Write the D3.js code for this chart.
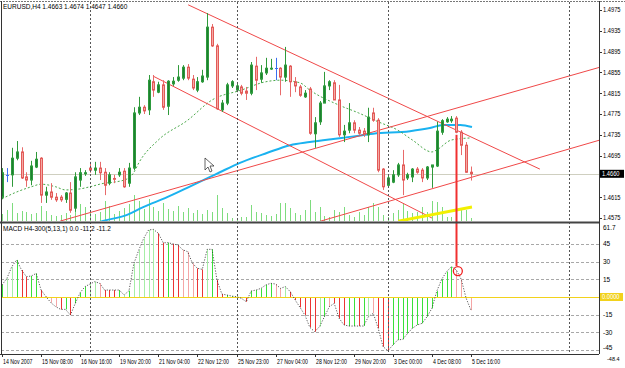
<!DOCTYPE html>
<html>
<head>
<meta charset="utf-8">
<script src="https://cdn.jsdelivr.net/npm/d3@7"></script>
<style>
  body { margin: 0; background: #fff; }
  svg text { font-family: "Liberation Sans", Arial, sans-serif; font-size: 6.5px; fill: #000; }
</style>
</head>
<body>
<svg id="chart" width="625" height="368"></svg>
<script>
// EURUSD H4, 14 Nov 2007 .. 5 Dec 2007 16:00
const timeLabels = ['14 Nov 2007','15 Nov 08:00','16 Nov 16:00','19 Nov 20:00','21 Nov 04:00','22 Nov 12:00',
  '25 Nov 23:00','27 Nov 04:00','28 Nov 12:00','29 Nov 20:00','3 Dec 00:00','4 Dec 08:00','5 Dec 16:00'];

const open = [1.4615,1.4658,1.4658,1.4690,1.4702,1.4654,1.4648,1.4673,1.4690,1.4619,1.4625,1.4615,1.4615,1.4611,1.4623,1.4594,
  1.4648,1.4660,1.4671,1.4667,1.4671,1.4663,1.4642,1.4651,1.4658,1.4665,1.4642,1.4671,1.4777,1.4788,1.4783,1.4837,
  1.4817,1.4831,1.4790,1.4833,1.4840,1.4844,1.4865,1.4842,1.4821,1.4837,1.4846,1.4942,1.4906,1.4783,1.4796,1.4829,
  1.4821,1.4827,1.4819,1.4815,1.4867,1.4842,1.4854,1.4862,1.4863,1.4863,1.4846,1.4867,1.4837,1.4827,1.4808,1.4823,
  1.4737,1.4760,1.4796,1.4829,1.4835,1.4802,1.4735,1.4744,1.4758,1.4744,1.4742,1.4735,1.4777,1.4763,1.4669,1.4638,
  1.4644,1.4658,1.4677,1.4652,1.4654,1.4669,1.4667,1.4652,1.4673,1.4675,1.4740,1.4760,1.4762,1.4767,1.4740,1.4715,1.4663];
const high = [1.4671,1.4671,1.4710,1.4723,1.4711,1.4663,1.4685,1.4702,1.4692,1.4635,1.4642,1.4623,1.4619,1.4625,1.4644,1.4663,
  1.4671,1.4667,1.4683,1.4683,1.4683,1.4671,1.4663,1.4658,1.4671,1.4671,1.4681,1.4788,1.4808,1.4792,1.4850,1.4850,
  1.4837,1.4840,1.4840,1.4846,1.4869,1.4869,1.4871,1.4850,1.4846,1.4860,1.4969,1.4948,1.4910,1.4802,1.4835,1.4840,
  1.4833,1.4831,1.4827,1.4875,1.4885,1.4869,1.4883,1.4881,1.4883,1.4865,1.4904,1.4869,1.4846,1.4831,1.4821,1.4827,
  1.4769,1.4800,1.4856,1.4840,1.4840,1.4831,1.4754,1.4796,1.4763,1.4750,1.4748,1.4787,1.4787,1.4767,1.4671,1.4656,
  1.4667,1.4681,1.4706,1.4662,1.4671,1.4673,1.4671,1.4675,1.4677,1.4760,1.4765,1.4769,1.4771,1.4771,1.4744,1.4721,1.4674];
const low = [1.4611,1.4644,1.4635,1.4686,1.4650,1.4635,1.4638,1.4671,1.4604,1.4604,1.4610,1.4606,1.4606,1.4604,1.4585,1.4587,
  1.4635,1.4656,1.4662,1.4658,1.4648,1.4619,1.4638,1.4642,1.4654,1.4633,1.4635,1.4667,1.4773,1.4775,1.4773,1.4808,
  1.4815,1.4783,1.4773,1.4829,1.4837,1.4840,1.4840,1.4821,1.4817,1.4835,1.4840,1.4904,1.4783,1.4779,1.4792,1.4825,
  1.4817,1.4811,1.4802,1.4811,1.4821,1.4835,1.4850,1.4860,1.4840,1.4811,1.4837,1.4808,1.4817,1.4808,1.4806,1.4735,
  1.4710,1.4754,1.4796,1.4821,1.4802,1.4731,1.4721,1.4738,1.4738,1.4735,1.4731,1.4721,1.4760,1.4663,1.4629,1.4637,
  1.4642,1.4654,1.4619,1.4648,1.4644,1.4660,1.4644,1.4648,1.4633,1.4673,1.4735,1.4758,1.4758,1.4738,1.4696,1.4662,1.4647];
const close = [1.4662,1.4658,1.4690,1.4702,1.4652,1.4648,1.4675,1.4688,1.4619,1.4625,1.4615,1.4610,1.4610,1.4623,1.4590,1.4654,
  1.4662,1.4662,1.4667,1.4671,1.4662,1.4638,1.4658,1.4650,1.4663,1.4635,1.4671,1.4777,1.4788,1.4781,1.4840,1.4821,
  1.4831,1.4788,1.4838,1.4838,1.4846,1.4865,1.4844,1.4825,1.4837,1.4848,1.4942,1.4906,1.4785,1.4796,1.4831,1.4837,
  1.4829,1.4815,1.4815,1.4869,1.4840,1.4854,1.4863,1.4863,1.4863,1.4846,1.4869,1.4837,1.4829,1.4811,1.4815,1.4738,
  1.4758,1.4796,1.4829,1.4837,1.4802,1.4735,1.4742,1.4758,1.4744,1.4738,1.4737,1.4769,1.4763,1.4667,1.4635,1.4652,
  1.4658,1.4677,1.4648,1.4658,1.4669,1.4663,1.4652,1.4673,1.4677,1.4742,1.4762,1.4765,1.4765,1.4740,1.4715,1.4663,1.4660];
const volume = [700,1100,1800,800,1000,900,700,800,1500,1000,600,500,600,800,600,1400,1700,1400,900,700,900,2000,1500,700,
  1000,1300,1700,2600,2000,1200,2200,1400,1000,1800,1200,1000,1500,900,1300,800,1100,700,1100,900,2600,1300,800,300,
  100,400,400,1600,900,800,600,500,700,1800,1800,1300,800,600,1100,2100,900,1400,500,400,1100,900,1400,600,400,900,
  600,1400,1800,1400,600,400,800,1100,1800,1000,800,900,1400,900,2000,1900,1400,400,400,700,1200,1100,300];

// MACD(5,13,1) histogram and its colour class: g rising, lg light rising, r falling, p light falling
const macd = [10.2,15.8,25.7,31.4,22.9,17.2,17.8,20,5.9,0.3,-4.8,-8.2,-10.5,-10.5,-15.3,-5.4,3.7,8.8,11,13,11.6,5.9,5.9,5.9,
  5.9,1.7,5.4,28.5,39.8,49.7,56.8,57.3,54,46,46,45,44,40,38.4,28.5,24.3,23.4,40.4,40.4,14.4,2.5,1.7,0.8,
  0.3,-1.1,-4,5.1,5.9,7.3,10.2,11.6,11,7.3,8.8,4.5,-2.5,-8.8,-15.3,-25.7,-29.4,-25.1,-16.7,-8.2,-5.4,-18,-23.7,-24.6,
  -24.6,-24.6,-24.6,-16.7,-13.8,-26.5,-42.1,-45.5,-40.7,-36.4,-35.9,-31,-26.5,-23.7,-22.3,-16.7,-9.6,5,15,21.5,25.7,22.9,15,-1,-11.2];
const macdColor = ['g','lg','lg','g','r','r','g','g','r','r','p','p','r','g','r','g','g','g','lg','lg','p','r','r','r',
  'g','lg','g','lg','lg','lg','lg','lg','r','r','g','r','r','p','p','p','r','r','lg','g','r','r','g','g',
  'g','p','r','g','g','g','g','g','p','p','lg','r','r','r','r','r','r','lg','g','p','r','r','r','g',
  'g','r','g','lg','p','r','r','r','g','g','g','g','g','g','g','g','g','g','g','g','g','p','p','r','p'];

// moving averages: [bar, price]
const maFast = [[0,1.4612],[3,1.4625],[6,1.4635],[8,1.4640],[11,1.4635],[13,1.4629],[16,1.4631],[18,1.4635],[21,1.4642],
  [23,1.4644],[26,1.4652],[27,1.4663],[28,1.4681],[32,1.4725],[38,1.4763],[43,1.4802],[49,1.4821],[54,1.4837],[57,1.4840],
  [61,1.4835],[63,1.4821],[69,1.4792],[73,1.4777],[77,1.4760],[81,1.4744],[84,1.4725],[88,1.4702],[89,1.4706],[92,1.4725],[96,1.4729]];
const maSlow = [[18,1.4562],[20.5,1.4569],[25.6,1.4581],[28.9,1.4596],[33.8,1.4615],[37.9,1.4633],[42.6,1.4654],[44.6,1.4663],
  [48.7,1.4681],[54.2,1.4700],[59,1.4715],[63,1.4721],[67.8,1.4727],[71.2,1.4731],[76,1.4737],[83.5,1.4742],[87.6,1.4748],
  [90.3,1.4754],[93.8,1.4754],[96.2,1.4750]];

// drawn objects: [bar, price] pairs
const channelLines = [[[38.1,1.4985],[110.1,1.4669]], [[30.9,1.4848],[88,1.4575]],
  [[11.9,1.4569],[122.4,1.4865]], [[64.5,1.4567],[122.4,1.4725]]];
const yellowLine = [[81.1,1.4569],[96.2,1.4596]];
const markBar = 93, markPrice = 1.4735, markMacd = 22;

const priceTicks = [1.4975,1.4935,1.4895,1.4855,1.4815,1.4775,1.4735,1.4695,1.4615,1.4575];
const macdTicks = [45,30,15,-15,-30,-45];
const macdMax = 61.7, macdMin = -48.4;
const separators = [18,48,79,116];

// squeeze axis texts a little, the terminal font is narrower
function narrow(sel, k) {
  sel.each(function() {
    const w = this.getComputedTextLength();
    d3.select(this).attr('textLength', w * k).attr('lengthAdjust', 'spacingAndGlyphs');
  });
}

class TerminalChart {
  constructor(_config) {
    this.config = {
      parentElement: _config.parentElement,
      axisX: 599,
      mainTop: 2, mainBottom: 221,
      subTop: 224, subBottom: 354
    };
    this.initVis();
  }

  initVis() {
    let vis = this;
    let c = vis.config;
    vis.svg = d3.select(c.parentElement);

    vis.bars = d3.range(open.length).map(i => ({i, o: open[i], h: high[i], l: low[i], c: close[i], v: volume[i]}));

    vis.xScale = d3.scaleLinear().domain([0, 96]).range([2, 471]);
    vis.yScale = d3.scaleLinear().domain([1.4575, 1.4975]).range([218, 10]);
    vis.vScale = d3.scaleLinear().domain([0, 3000]).range([c.mainBottom, c.mainBottom - 30]);
    vis.mScale = d3.scaleLinear().domain([-45, 45]).range([350.1, 243.9]);

    vis.svg.append('defs').append('clipPath').attr('id', 'clipMain')
      .append('rect').attr('x', 1).attr('y', c.mainTop).attr('width', c.axisX - 1).attr('height', c.mainBottom - c.mainTop);
    vis.svg.select('defs').append('clipPath').attr('id', 'clipSub')
      .append('rect').attr('x', 1).attr('y', c.subTop).attr('width', c.axisX - 1).attr('height', c.subBottom - c.subTop);

    vis.main = vis.svg.append('g').attr('clip-path', 'url(#clipMain)');
    vis.sub = vis.svg.append('g').attr('clip-path', 'url(#clipSub)');

    vis.updateVis();
  }

  updateVis() {
    let vis = this;
    let c = vis.config;
    const px = i => Math.round(vis.xScale(i));

    // volumes
    vis.main.selectAll('.vol').data(vis.bars).join('line')
      .attr('class', 'vol')
      .attr('x1', d => px(d.i) + 0.5).attr('x2', d => px(d.i) + 0.5)
      .attr('y1', c.mainBottom).attr('y2', d => vis.vScale(d.v))
      .attr('stroke', '#7edc7e').attr('stroke-width', 1);

    // current price line
    vis.main.append('line')
      .attr('x1', 1).attr('x2', c.axisX)
      .attr('y1', Math.round(vis.yScale(close[close.length - 1])) + 0.5)
      .attr('y2', Math.round(vis.yScale(close[close.length - 1])) + 0.5)
      .attr('stroke', '#cfcfc0').attr('stroke-width', 1);

    // period separators
    vis.svg.selectAll('.sep').data(separators).join('line')
      .attr('class', 'sep')
      .attr('x1', d => px(d) + 0.5).attr('x2', d => px(d) + 0.5)
      .attr('y1', c.mainTop).attr('y2', c.subBottom)
      .attr('stroke', '#555').attr('stroke-dasharray', '2,2').attr('stroke-width', 1);

    const line = d3.line().x(d => vis.xScale(d[0])).y(d => vis.yScale(d[1]));

    vis.main.append('path').datum(maSlow)
      .attr('d', line.curve(d3.curveMonotoneX))
      .attr('fill', 'none').attr('stroke', '#1ab2f0').attr('stroke-width', 2);
    vis.main.append('path').datum(maFast)
      .attr('d', line.curve(d3.curveMonotoneX))
      .attr('fill', 'none').attr('stroke', '#4aa84a').attr('stroke-width', 1).attr('stroke-dasharray', '2,2');

    line.curve(d3.curveLinear);
    vis.main.selectAll('.chan').data(channelLines).join('path')
      .attr('class', 'chan')
      .attr('d', line)
      .attr('fill', 'none').attr('stroke', '#f04848').attr('stroke-width', 1);
    vis.main.append('path').datum(yellowLine)
      .attr('d', line)
      .attr('fill', 'none').attr('stroke', '#f2f000').attr('stroke-width', 3);

    // candles
    vis.main.selectAll('.wick').data(vis.bars).join('line')
      .attr('class', 'wick')
      .attr('x1', d => px(d.i) + 0.5).attr('x2', d => px(d.i) + 0.5)
      .attr('y1', d => vis.yScale(d.h)).attr('y2', d => vis.yScale(d.l))
      .attr('stroke', d => d.c > d.o ? '#2f9a3a' : d.c < d.o ? '#e86a6a' : '#3a6ef0')
      .attr('stroke-width', 1);

    vis.main.selectAll('.body').data(vis.bars.filter(d => d.c !== d.o)).join('rect')
      .attr('class', 'body')
      .attr('x', d => px(d.i) - 0.5)
      .attr('width', 2)
      .attr('y', d => vis.yScale(Math.max(d.o, d.c)))
      .attr('height', d => Math.max(0.8, Math.abs(vis.yScale(d.o) - vis.yScale(d.c))))
      .attr('fill', d => d.c > d.o ? '#1f7f30' : '#f5a9a4')
      .attr('stroke', d => d.c > d.o ? '#2c9a3c' : '#e25a58')
      .attr('stroke-width', 1);

    vis.main.selectAll('.doji').data(vis.bars.filter(d => d.c === d.o)).join('line')
      .attr('class', 'doji')
      .attr('x1', d => px(d.i) - 1).attr('x2', d => px(d.i) + 2)
      .attr('y1', d => Math.round(vis.yScale(d.o)) + 0.5).attr('y2', d => Math.round(vis.yScale(d.o)) + 0.5)
      .attr('stroke', '#3a6ef0').attr('stroke-width', 1);

    // mark line from price into the MACD window
    vis.svg.append('line')
      .attr('x1', px(markBar) + 0.5).attr('x2', px(markBar) + 0.5)
      .attr('y1', vis.yScale(markPrice)).attr('y2', vis.mScale(markMacd) - 5)
      .attr('stroke', '#f03030').attr('stroke-width', 2);

    // MACD window
    vis.sub.selectAll('.mgrid').data(macdTicks).join('line')
      .attr('class', 'mgrid')
      .attr('x1', 1).attr('x2', c.axisX)
      .attr('y1', d => Math.round(vis.mScale(d)) + 0.5).attr('y2', d => Math.round(vis.mScale(d)) + 0.5)
      .attr('stroke', '#a8a8a8').attr('stroke-dasharray', '3,2');

    const colors = {g: '#3ae03a', lg: '#a6eea6', r: '#ec3434', p: '#f5a6a6'};
    vis.sub.selectAll('.mbar').data(macd).join('line')
      .attr('class', 'mbar')
      .attr('x1', (d, i) => px(i) + 0.5).attr('x2', (d, i) => px(i) + 0.5)
      .attr('y1', vis.mScale(0)).attr('y2', d => vis.mScale(d))
      .attr('stroke', (d, i) => colors[macdColor[i]]).attr('stroke-width', 1);

    vis.sub.append('line')
      .attr('x1', 1).attr('x2', c.axisX)
      .attr('y1', Math.round(vis.mScale(0)) + 0.5).attr('y2', Math.round(vis.mScale(0)) + 0.5)
      .attr('stroke', '#f2d21c').attr('stroke-width', 1);

    vis.sub.append('path').datum(macd)
      .attr('d', d3.line().x((d, i) => vis.xScale(i)).y(d => vis.mScale(d)))
      .attr('fill', 'none').attr('stroke', '#333').attr('stroke-width', 0.8).attr('stroke-dasharray', '1.2,1.5');

    vis.svg.append('circle')
      .attr('cx', vis.xScale(markBar) + 1.5).attr('cy', vis.mScale(markMacd))
      .attr('r', 4.5).attr('fill', 'none').attr('stroke', '#f02020').attr('stroke-width', 1.3);

    // frames
    vis.svg.append('line').attr('x1', 0).attr('x2', 625).attr('y1', 1.5).attr('y2', 1.5)
      .attr('stroke', '#777').attr('stroke-dasharray', '2,1');
    vis.svg.append('line').attr('x1', 1.5).attr('x2', 1.5).attr('y1', 1).attr('y2', c.subBottom)
      .attr('stroke', '#333');
    vis.svg.append('line').attr('x1', 0).attr('x2', c.axisX).attr('y1', c.mainBottom + 1.5).attr('y2', c.mainBottom + 1.5)
      .attr('stroke', '#444').attr('stroke-width', 2);
    vis.svg.append('line').attr('x1', 0).attr('x2', c.axisX).attr('y1', c.subBottom + 0.5).attr('y2', c.subBottom + 0.5)
      .attr('stroke', '#333');
    vis.svg.append('line').attr('x1', c.axisX + 0.5).attr('x2', c.axisX + 0.5).attr('y1', 1).attr('y2', c.subBottom)
      .attr('stroke', '#333');

    // price axis
    const axisG = vis.svg.append('g');
    axisG.selectAll('.ptick').data(priceTicks).join('line')
      .attr('x1', c.axisX).attr('x2', c.axisX + 3)
      .attr('y1', d => Math.round(vis.yScale(d)) + 0.5).attr('y2', d => Math.round(vis.yScale(d)) + 0.5)
      .attr('stroke', '#333');
    axisG.selectAll('.plabel').data(priceTicks).join('text')
      .attr('class', 'plabel')
      .attr('x', c.axisX + 4).attr('y', d => vis.yScale(d) + 2.3)
      .text(d => d.toFixed(4));

    const last = close[close.length - 1];
    axisG.append('rect').attr('x', c.axisX + 1).attr('y', vis.yScale(last) - 4).attr('width', 24).attr('height', 8).attr('fill', '#000');
    axisG.append('text').attr('class', 'plabel').attr('x', c.axisX + 3).attr('y', vis.yScale(last) + 2.3).style('fill', '#fff')
      .text(last.toFixed(4));

    // MACD axis
    axisG.selectAll('.mlabel').data(macdTicks).join('text')
      .attr('class', 'mlabel')
      .attr('x', c.axisX + 4).attr('y', d => vis.mScale(d) + (d === -45 ? 0 : 2.3))
      .text(d => d);
    axisG.append('text').attr('x', c.axisX + 4).attr('y', c.subTop + 5.5).text(macdMax);
    axisG.append('text').attr('x', c.axisX + 8).attr('y', c.subBottom + 6.5).style('font-size', '5.5px').text(macdMin);
    axisG.append('rect').attr('x', c.axisX + 1).attr('y', vis.mScale(0) - 4).attr('width', 23).attr('height', 8).attr('fill', '#f2d21c');
    axisG.append('text').attr('class', 'plabel').attr('x', c.axisX + 3).attr('y', vis.mScale(0) + 2.3).style('fill', '#fff').text((0).toFixed(4));
    narrow(axisG.selectAll('.plabel'), 0.88);

    // time axis
    const labelBars = timeLabels.map((t, k) => k * 8);
    vis.svg.selectAll('.ttick').data(labelBars).join('line')
      .attr('class', 'ttick')
      .attr('x1', d => px(d) + 0.5).attr('x2', d => px(d) + 0.5)
      .attr('y1', c.subBottom).attr('y2', c.subBottom + 3)
      .attr('stroke', '#333');
    vis.svg.selectAll('.tlabel').data(timeLabels).join('text')
      .attr('class', 'tlabel')
      .attr('x', (d, k) => px(k * 8) + 1).attr('y', 364)
      .text(d => d);
    narrow(vis.svg.selectAll('.tlabel'), 0.8);

    // titles
    const n = open.length - 1;
    vis.svg.append('text').attr('x', 3).attr('y', 9)
      .text(`EURUSD,H4  ${open[n].toFixed(4)} ${high[n].toFixed(4)} ${low[n].toFixed(4)} ${close[n].toFixed(4)}`);
    vis.svg.append('text').attr('x', 3).attr('y', 231)
      .text(`MACD H4-300(5,13,1) 0.0 ${macd[n].toFixed(1)} ${macd[n].toFixed(1)}`);

    // mouse cursor
    vis.svg.append('path')
      .attr('d', 'M205,158 L205,170 L208,167 L210,172 L212,171 L210,166 L214,166 Z')
      .attr('fill', '#fff').attr('stroke', '#222').attr('stroke-width', 0.7);
  }
}

new TerminalChart({parentElement: '#chart'});
</script>
</body>
</html>
